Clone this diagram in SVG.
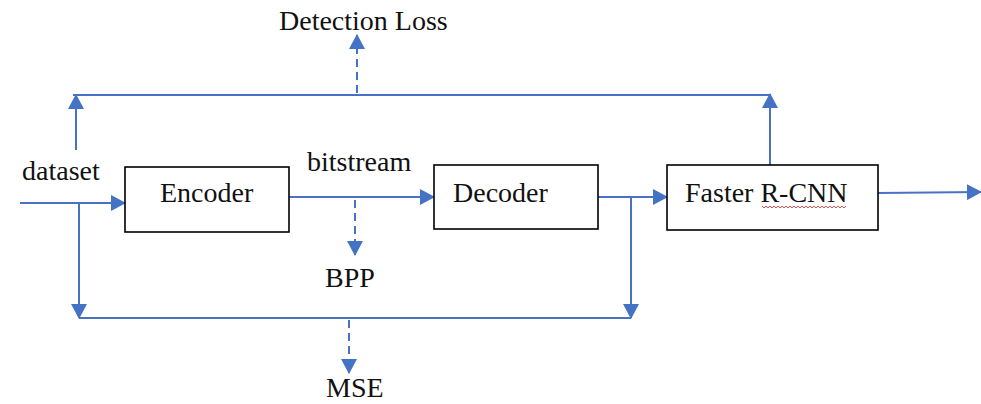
<svg xmlns="http://www.w3.org/2000/svg" width="981" height="404" viewBox="0 0 981 404">
  <style>
    .box { fill: #ffffff; stroke: #000000; stroke-width: 1.6; }
    .lbl { font-family: "Liberation Serif", "Times New Roman", serif; font-size: 28px; fill: #111111; }
    .wire { fill: none; stroke: #4a72c4; stroke-width: 2; }
    .dash { fill: none; stroke: #4a72c4; stroke-width: 2; stroke-dasharray: 8 5; }
  </style>
  <defs>
    <marker id="arrow" viewBox="0 0 15 16" refX="14" refY="8" markerWidth="15" markerHeight="16" markerUnits="userSpaceOnUse" orient="auto">
      <path d="M0,0 L15,8 L0,16 Z" fill="#4472c4"/>
    </marker>
  </defs>
  <rect width="981" height="404" fill="#ffffff"/>

  <!-- connectors -->
  <g id="connectors">
    <!-- dataset input into encoder -->
    <line class="wire" x1="20" y1="203" x2="125" y2="203" marker-end="url(#arrow)"/>
    <!-- dataset branch up to the loss bus -->
    <line class="wire" x1="76" y1="150" x2="76" y2="95" marker-end="url(#arrow)"/>
    <!-- dataset branch down to the MSE bus -->
    <line class="wire" x1="79" y1="203" x2="79" y2="318" marker-end="url(#arrow)"/>
    <!-- encoder to decoder (bitstream) -->
    <line class="wire" x1="289" y1="197" x2="434" y2="197" marker-end="url(#arrow)"/>
    <!-- bitstream rate to BPP -->
    <line class="dash" x1="355" y1="200" x2="355" y2="255" marker-end="url(#arrow)"/>
    <!-- decoder to Faster R-CNN -->
    <line class="wire" x1="598" y1="197" x2="667" y2="197" marker-end="url(#arrow)"/>
    <!-- decoder output down to the MSE bus -->
    <line class="wire" x1="631" y1="197" x2="631" y2="318" marker-end="url(#arrow)"/>
    <!-- MSE bus -->
    <line class="wire" x1="79" y1="318" x2="631" y2="318"/>
    <!-- MSE bus to MSE -->
    <line class="dash" x1="349" y1="320" x2="349" y2="373" marker-end="url(#arrow)"/>
    <!-- detector output up to the loss bus -->
    <line class="wire" x1="770" y1="165" x2="770" y2="94" marker-end="url(#arrow)"/>
    <!-- loss bus -->
    <line class="wire" x1="73" y1="95" x2="770" y2="95" stroke="#7b8cc8"/>
    <!-- loss bus to Detection Loss -->
    <line class="dash" x1="357" y1="93" x2="357" y2="35" marker-end="url(#arrow)"/>
    <!-- detector output -->
    <line class="wire" x1="878" y1="193" x2="981" y2="192" marker-end="url(#arrow)"/>
  </g>

  <!-- nodes -->
  <g id="encoder">
    <rect class="box" x="125" y="167" width="164" height="65"/>
    <text class="lbl" x="160" y="202">Encoder</text>
  </g>
  <g id="decoder">
    <rect class="box" x="434" y="165" width="164" height="64"/>
    <text class="lbl" x="453" y="202">Decoder</text>
  </g>
  <g id="faster-rcnn">
    <rect class="box" x="667" y="165" width="211" height="65"/>
    <text class="lbl" x="685" y="202">Faster R-CNN</text>
    <!-- spell-check squiggle under R-CNN -->
    <path d="M762,206 l2,2 l2,-2 l2,2 l2,-2 l2,2 l2,-2 l2,2 l2,-2 l2,2 l2,-2 l2,2 l2,-2 l2,2 l2,-2 l2,2 l2,-2 l2,2 l2,-2 l2,2 l2,-2 l2,2 l2,-2 l2,2 l2,-2 l2,2 l2,-2 l2,2 l2,-2 l2,2 l2,-2 l2,2 l2,-2 l2,2 l2,-2 l2,2 l2,-2 l2,2 l2,-2 l2,2 l2,-2 l2,2 l2,-2" fill="none" stroke="#d04040" stroke-width="0.9"/>
  </g>
  <g id="dataset">
    <text class="lbl" x="22" y="180">dataset</text>
  </g>
  <g id="bitstream">
    <text class="lbl" x="307" y="171">bitstream</text>
  </g>
  <g id="bpp">
    <text class="lbl" x="325" y="287">BPP</text>
  </g>
  <g id="mse">
    <text class="lbl" x="326" y="397">MSE</text>
  </g>
  <g id="detection-loss">
    <text class="lbl" x="279" y="30">Detection Loss</text>
  </g>
</svg>
